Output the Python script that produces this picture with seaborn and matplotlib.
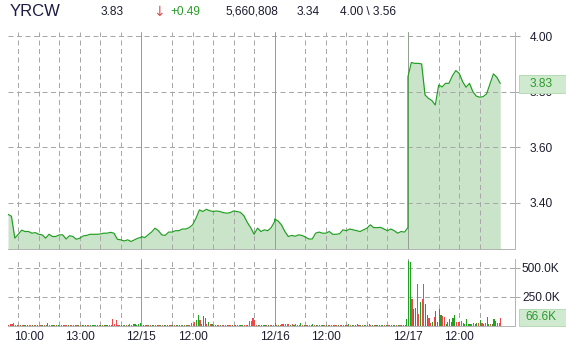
import numpy as np
import pandas as pd
import matplotlib
matplotlib.use("Agg")
import matplotlib.pyplot as plt
import matplotlib.transforms as mtrans
from matplotlib.patches import Rectangle
import seaborn as sns

# ---------------- data ----------------
ticker = "YRCW"
header_last = "3.83"
header_change = "+0.49"
header_volume = "5,660,808"
header_prev = "3.34"
header_range = "4.00 \\ 3.56"

# price, 10-minute samples per session (9:30 -> 16:00)
day1_price = [3.359, 3.352, 3.273, 3.287, 3.302, 3.297, 3.297, 3.291, 3.293, 3.287,
              3.285, 3.273, 3.287, 3.279, 3.279, 3.285, 3.285, 3.270, 3.282, 3.279,
              3.269, 3.273, 3.281, 3.283, 3.287, 3.287, 3.287, 3.288, 3.291, 3.291,
              3.294, 3.291, 3.269, 3.267, 3.263, 3.267, 3.261, 3.267, 3.273, 3.276]
day2_price = [3.279, 3.275, 3.285, 3.295, 3.309, 3.300, 3.285, 3.283, 3.295, 3.295,
              3.300, 3.300, 3.306, 3.306, 3.311, 3.321, 3.345, 3.375, 3.369, 3.377,
              3.372, 3.369, 3.371, 3.369, 3.365, 3.363, 3.365, 3.371, 3.369, 3.366,
              3.354, 3.330, 3.311, 3.287, 3.309, 3.297, 3.303, 3.300, 3.311, 3.333]
day3_price = [3.342, 3.335, 3.321, 3.297, 3.279, 3.283, 3.280, 3.285, 3.283, 3.277,
              3.270, 3.270, 3.291, 3.295, 3.291, 3.291, 3.297, 3.287, 3.287, 3.289,
              3.303, 3.300, 3.306, 3.303, 3.300, 3.297, 3.303, 3.309, 3.321, 3.311,
              3.311, 3.312, 3.306, 3.300, 3.306, 3.300, 3.291, 3.297, 3.295, 3.311]
day4_price = [3.855, 3.906, 3.903, 3.903, 3.901, 3.789, 3.777, 3.769, 3.753, 3.825,
              3.818, 3.831, 3.831, 3.858, 3.877, 3.867, 3.837, 3.817, 3.831, 3.801,
              3.785, 3.781, 3.783, 3.793, 3.829, 3.865, 3.853, 3.831]

# volume (thousands), 5-minute bars; G = up bar, R = down bar
day1_vol = [8, 10, 12, 26, 8, 8, 6, 8, 5, 6, 5, 5, 4, 5, 4, 3, 4, 3, 3, 8,
            4, 6, 3, 20, 3, 3, 3, 2, 3, 8, 3, 2, 2, 3, 2, 2, 3, 2, 3, 2,
            3, 2, 2, 2, 2, 2, 2, 2, 3, 2, 6, 2, 2, 3, 2, 2, 3, 6, 3, 3,
            8, 55, 15, 46, 8, 2, 3, 2, 3, 2, 2, 15, 3, 10, 12, 8, 15, 20]
day1_dir = "RRRRRGRGRGRGRRGRRGRRGRGGRRGRGGRRGRRGRRRGRGRGRGRRGGGRGRGRGGGRGRRRRRGRGRGRRGGGGG"
day2_vol = [8, 6, 5, 4, 5, 3, 5, 4, 3, 4, 3, 3, 2, 2, 3, 2, 8, 3, 2, 3,
            3, 2, 6, 3, 2, 3, 2, 3, 5, 26, 17, 32, 46, 90, 45, 17, 81, 61, 17, 32,
            17, 17, 5, 3, 8, 3, 2, 3, 2, 2, 2, 3, 2, 2, 2, 2, 3, 2, 3, 8,
            2, 3, 2, 38, 43, 67, 46, 8, 2, 2, 3, 2, 3, 2, 2, 3, 3, 3]
day2_dir = "RGGRGRGGRGRGRGRGGRGRGRGRGRGRRRRRGGRGGGRGRGGGGRGRGRGRRGRGRRGGRRGRRRRRGRGRGRGRGR"
day3_vol = [26, 5, 8, 5, 10, 12, 17, 12, 15, 8, 12, 6, 10, 5, 4, 20, 4, 3, 5, 3,
            3, 4, 17, 3, 2, 3, 2, 3, 2, 3, 2, 3, 2, 2, 3, 2, 2, 3, 2, 2,
            3, 2, 3, 10, 2, 3, 2, 3, 10, 3, 2, 3, 2, 2, 3, 10, 2, 2, 3, 2,
            2, 3, 2, 2, 3, 2, 2, 2, 3, 2, 3, 2, 2, 3, 2, 3, 4, 57]
day3_dir = "GRGRRGRRRGRGRRGGRGRGRGGRGRGRGRGRGRGRRGRGRGRGRGRGGRGRGRRGRGRGRGRGRGRRGRGRGRGRGG"
day4_vol = [560, 550, 228, 141, 149, 361, 100, 207, 230, 361,
            187, 91, 62, 25, 33, 77, 126, 33, 143, 91,
            83, 77, 13, 33, 54, 33, 62, 91, 33, 28,
            33, 41, 25, 13, 54, 13, 13, 16, 25, 16,
            20, 25, 48, 20, 13, 25, 70, 13, 13, 13,
            57, 42, 25, 25, 66.6]
day4_dir = "GGRGGRRGRRGGRRGRGGGGRRGGGGGGRRRRGGGGGRRGGRGRGRGGRGGGRRR"

price_ticks = [3.40, 3.60, 3.80, 4.00]
vol_ticks = [250, 500]
vol_tick_labels = ["250.0K", "500.0K"]
x_tick_labels = ["10:00", "13:00", "12/15", "12:00", "12/16", "12:00", "12/17", "12:00"]
last_volume_label = "66.6K"

# ---------------- build frames ----------------
SESSION = 6.5  # hours per trading day
prices = [day1_price, day2_price, day3_price, day4_price]
vols = [day1_vol, day2_vol, day3_vol, day4_vol]
dirs = [day1_dir, day2_dir, day3_dir, day4_dir]

rows = []
for d, plist in enumerate(prices):
    for k, p in enumerate(plist):
        rows.append((d * SESSION + k / 6.0, p))
price_df = pd.DataFrame(rows, columns=["t", "price"])

vrows = []
for d, (vl, dl) in enumerate(zip(vols, dirs)):
    for j, (v, c) in enumerate(zip(vl, dl)):
        vrows.append((d * SESSION + j / 12.0 + 0.028, v * 1000.0, c))
vol_df = pd.DataFrame(vrows, columns=["t", "vol", "dir"])

# hour positions
day_starts = [SESSION, 2 * SESSION, 3 * SESSION]
grid_hours = ([0.5 + h for h in range(6)] +
              [SESSION + 1.5 + h for h in range(5)] +
              [2 * SESSION + 1.5 + h for h in range(5)] +
              [3 * SESSION + 1.5 + h for h in range(3)])
x_tick_pos = [0.5, 3.5, SESSION, SESSION + 2.5, 2 * SESSION, 2 * SESSION + 2.5,
              3 * SESSION, 3 * SESSION + 2.5]

# ---------------- style ----------------
sns.set_theme(style="white")
plt.rcParams["font.family"] = ["Liberation Sans", "DejaVu Sans"]

W, H = 566, 350
fig = plt.figure(figsize=(W / 100, H / 100), dpi=100)
fig.patch.set_facecolor("white")


def fx(px):
    return px / W


def fy(py):
    return 1 - py / H


L, R = 8, 515
ax = fig.add_axes([fx(L), fy(249), fx(R - L), (249 - 32) / H])
axv = fig.add_axes([fx(L), fy(325.5), fx(R - L), (325.5 - 259) / H])

XMAX = (R - L) / 20.51
P_LO, P_HI = 3.234, 4.016
V_HI = 578000

LINE_C = "#1f9e1f"
FILL_C = "#c9e4c9"
GRID_C = "#a8a8a8"
DAY_C = "#94a094"
SPINE_C = "#b4b4b4"
TEXT_C = "#1c1c30"
GREEN_BAR = "#22a022"
RED_BAR = "#ee4848"
PX = 0.72  # one pixel in points

for a in (ax, axv):
    a.set_xlim(0, XMAX)
    a.set_facecolor("white")
    for s in ("left", "top"):
        a.spines[s].set_visible(False)
    for s in ("right", "bottom"):
        a.spines[s].set_color(SPINE_C)
        a.spines[s].set_linewidth(PX)
    for gx in grid_hours:
        a.axvline(gx, color=GRID_C, lw=PX, dashes=(5, 3.5), zorder=1.5)
    for dx in day_starts:
        a.axvline(dx, color=DAY_C, lw=PX, zorder=1.6)

ax.set_ylim(P_LO, P_HI)
axv.set_ylim(0, V_HI)

for py in price_ticks:
    ax.axhline(py, color=GRID_C, lw=PX, dashes=(5, 3.5), zorder=1.5)
for vy in vol_ticks:
    axv.axhline(vy * 1000, color=GRID_C, lw=PX, dashes=(5, 3.5), zorder=1.5)

# price area + line
ax.fill_between(price_df["t"], price_df["price"], P_LO, color=FILL_C, lw=0, zorder=1)
sns.lineplot(data=price_df, x="t", y="price", estimator=None, sort=False,
             color=LINE_C, lw=0.85, ax=ax, zorder=3)

# volume bars
bar_colors = [GREEN_BAR if c == "G" else RED_BAR for c in vol_df["dir"]]
axv.bar(vol_df["t"], vol_df["vol"], width=0.055, color=bar_colors, lw=0, zorder=3)

# axes ticks
ax.set_xlabel("")
ax.set_ylabel("")
axv.set_xlabel("")
axv.set_ylabel("")
ax.set_xticks([])
ax.yaxis.tick_right()
ax.set_yticks(price_ticks)
ax.set_yticklabels([f"{v:.2f}" for v in price_ticks])
ax.tick_params(axis="y", length=5 * PX, width=PX, color=GRID_C, pad=10 * PX,
               labelsize=8.6, labelcolor=TEXT_C, right=True, left=False)

axv.yaxis.tick_right()
axv.set_yticks([v * 1000 for v in vol_ticks])
axv.set_yticklabels(vol_tick_labels)
axv.tick_params(axis="y", length=5 * PX, width=PX, color=GRID_C, pad=2 * PX,
                labelsize=8.6, labelcolor=TEXT_C, right=True, left=False)
axv.set_xticks(x_tick_pos)
axv.set_xticklabels(x_tick_labels)
axv.tick_params(axis="x", length=0, pad=5 * PX, labelsize=8.6, labelcolor=TEXT_C)
first = axv.get_xticklabels()[0]
first.set_transform(first.get_transform() + mtrans.ScaledTranslation(11 / 100, 0, fig.dpi_scale_trans))

# last-value boxes
bt = mtrans.blended_transform_factory(fig.transFigure, ax.transData)
h_data = 18 / (217 / (P_HI - P_LO))
last_p = float(header_last)
ax.add_patch(Rectangle((fx(519), last_p - h_data / 2), fx(566) - fx(519), h_data,
                       transform=bt, facecolor="#cfeacf", edgecolor="#b5dcb5",
                       lw=PX, clip_on=False, zorder=10))
ax.text(fx(530), last_p, header_last, transform=bt, va="center", ha="left",
        fontsize=8.6, color="#2e9a2e", zorder=11, clip_on=False)

btv = mtrans.blended_transform_factory(fig.transFigure, axv.transData)
v_per_px = V_HI / 66.5
axv.add_patch(Rectangle((fx(519), -0.5 * v_per_px), fx(566) - fx(519), 17 * v_per_px,
                        transform=btv, facecolor="#cfeacf", edgecolor="#b5dcb5",
                        lw=PX, clip_on=False, zorder=10))
axv.text(fx(525), 8 * v_per_px, last_volume_label, transform=btv, va="center", ha="left",
         fontsize=8.6, color="#2e9a2e", zorder=11, clip_on=False)

# header
yh = fy(12)
fig.text(fx(10), yh, ticker, fontsize=12, color="#1c1c44", va="center", ha="left")
fig.text(fx(101), yh, header_last, fontsize=8.6, color=TEXT_C, va="center", ha="left")
fig.text(fx(153), yh, "\u2193", fontsize=10, color="#e05050", va="center", ha="left",
         family=["DejaVu Sans"])
fig.text(fx(170), yh, header_change, fontsize=8.6, color="#2a9a2a", va="center", ha="left")
fig.text(fx(225), yh, header_volume, fontsize=8.6, color=TEXT_C, va="center", ha="left")
fig.text(fx(297), yh, header_prev, fontsize=8.6, color=TEXT_C, va="center", ha="left")
fig.text(fx(340), yh, header_range, fontsize=8.6, color=TEXT_C, va="center", ha="left")

fig.savefig("out.png", dpi=100, facecolor="white")
